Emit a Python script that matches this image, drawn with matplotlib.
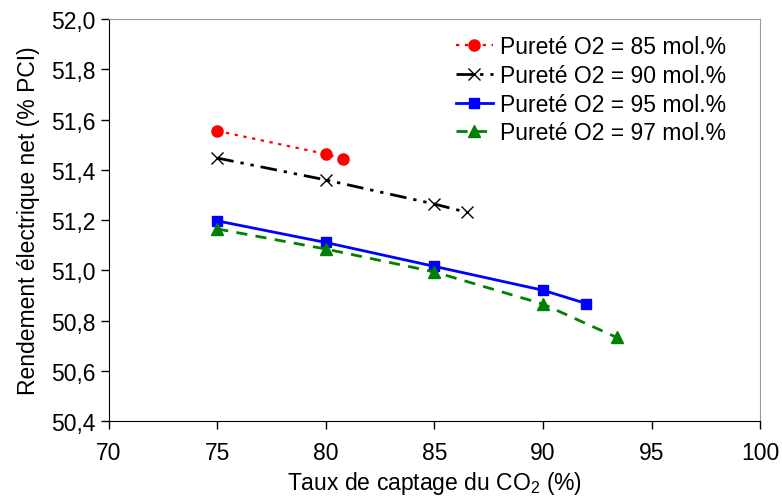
import matplotlib
matplotlib.use("Agg")
import matplotlib.pyplot as plt
from matplotlib.ticker import FuncFormatter

plt.rcParams['font.family'] = ['Liberation Sans', 'DejaVu Sans']
plt.rcParams['mathtext.fontset'] = 'custom'
plt.rcParams['mathtext.rm'] = 'Liberation Sans'
plt.rcParams['mathtext.it'] = 'Liberation Sans'

# data
x85 = [75, 80, 80.8]
y85 = [51.555, 51.463, 51.443]
x90 = [75, 80, 85, 86.5]
y90 = [51.447, 51.360, 51.264, 51.231]
x95 = [75, 80, 85, 90, 92]
y95 = [51.197, 51.111, 51.016, 50.921, 50.868]
x97 = [75, 80, 85, 90, 93.4]
y97 = [51.165, 51.085, 50.994, 50.866, 50.733]
labels = ["Pureté O2 = 85 mol.%", "Pureté O2 = 90 mol.%",
          "Pureté O2 = 95 mol.%", "Pureté O2 = 97 mol.%"]

fs = 16.5
fig = plt.figure(figsize=(7.82, 5.02), dpi=100)
ax = fig.add_axes([0.139, 0.159, 0.833, 0.801])

ax.plot(x85, y85, color='red', ls=(0, (1.5, 2.5)), lw=1.6,
        marker='o', ms=8, label=labels[0])
ax.plot(x90, y90, color='black', ls=(0, (6, 2.5, 1.2, 2.5, 1.2, 2.5)), lw=2,
        marker='x', ms=8, mew=1, label=labels[1])
ax.plot(x95, y95, color='blue', ls='-', lw=2,
        marker='s', ms=7, label=labels[2])
ax.plot(x97, y97, color='green', ls=(0, (4, 3)), lw=2,
        marker='^', ms=8, label=labels[3])

ax.set_xlim(70, 100)
ax.set_ylim(50.4, 52.0)
ax.set_xticks([70, 75, 80, 85, 90, 95, 100])
ax.set_yticks([50.4, 50.6, 50.8, 51.0, 51.2, 51.4, 51.6, 51.8, 52.0])
ax.yaxis.set_major_formatter(FuncFormatter(lambda v, p: ("%.1f" % v).replace('.', ',')))
ax.tick_params(labelsize=fs, length=6, width=1, direction='out')
ax.tick_params(axis='x', pad=8)

for s in ['top', 'right']:
    ax.spines[s].set_color('#999999')
for s in ['left', 'bottom']:
    ax.spines[s].set_color('black')

ax.set_xlabel("Taux de captage du CO$_2$ (%)", fontsize=fs, labelpad=4)
ax.set_ylabel("Rendement électrique net (% PCI)", fontsize=fs, labelpad=8)

ax.legend(loc='upper right', bbox_to_anchor=(0.972, 1.0), frameon=False, fontsize=fs,
          handlelength=1.6, handletextpad=0.3, labelspacing=0.25, borderaxespad=0.3)

fig.savefig("out.png", dpi=100)
